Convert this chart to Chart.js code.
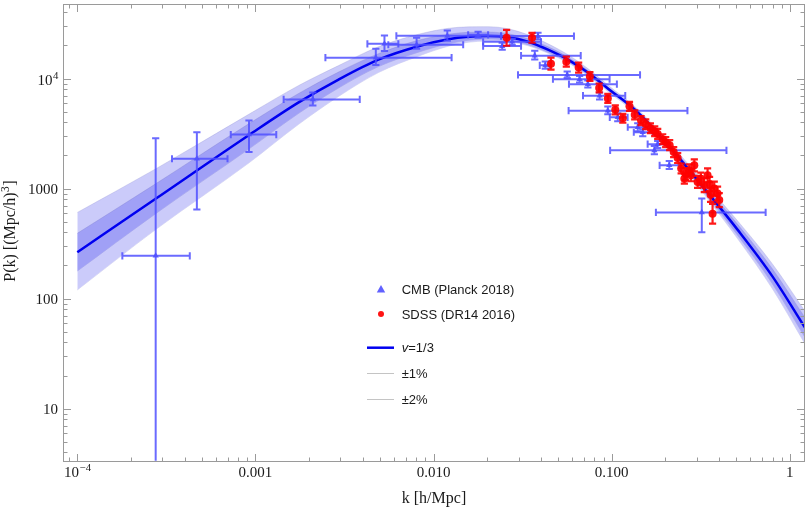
<!DOCTYPE html>
<html><head><meta charset="utf-8">
<script src="https://cdn.jsdelivr.net/npm/chart.js@4/dist/chart.umd.min.js"></script>
<style>html,body{margin:0;padding:0;background:#fff}#wrap{width:809px;height:509px}</style>
</head><body><div id="wrap"><canvas id="c" width="809" height="509"></canvas></div>
<script>
// ---- model curve (nu = 1/3) and ±1% / ±2% bands ----
const modelK = [1.0e-4, 2.765e-4, 9.17e-4, 1.748e-3, 2.927e-3, 4.903e-3, 8.212e-3, 0.01208, 0.01564, 0.02024, 0.02620, 0.03391, 0.04387, 0.05678, 0.07347, 0.09510, 0.1400, 0.2143, 0.3321, 0.5082, 0.7980, 1.221];
const modelP = [264.2, 812.3, 3056, 6069, 9795, 14850, 19660, 22750, 23960, 24310, 23710, 21590, 18280, 14850, 11330, 8123, 4932, 2332, 993.8, 423.6, 159.4, 54.0];
const band1Hi = [392.2, 1109.8, 3881, 7319, 11450, 16825, 22275, 25243, 26310, 26418, 25500, 22980, 19457, 15643, 11812, 8381, 5088, 2431, 1068.8, 474.9, 186.3, 66.5];
const band1Lo = [178.0, 594.5, 2284, 4829, 8208, 12838, 17352, 20718, 22278, 22839, 22275, 20284, 17353, 14245, 10868, 7873, 4780, 2237, 924.0, 377.8, 136.4, 43.9];
const band2Hi = [606.9, 1516.1, 4731, 8644, 13107, 19456, 25230, 28594, 29497, 29622, 28296, 24973, 20711, 16478, 12312, 8736, 5250, 2534, 1126.0, 510.8, 206.7, 76.1];
const band2Lo = [119.9, 426.3, 1707, 3841, 6877, 11334, 15970, 19668, 21370, 21909, 21592, 19868, 16997, 13951, 10644, 7632, 4634, 2146, 877.1, 351.3, 122.9, 38.3];

// ---- CMB (Planck 2018) ----
const cmbK   = [2.754e-4, 4.69e-4, 9.20e-4, 2.10e-3, 4.74e-3, 5.30e-3, 8.03e-3, 0.01194, 0.01778, 0.02427, 0.03855, 0.03698, 0.04236, 0.05623, 0.06603, 0.07345, 0.08551, 0.09509, 0.1081, 0.1400, 0.1493, 0.1735, 0.1811, 0.2104, 0.3203, 0.02761];
const cmbP   = [245, 1866, 3097, 6457, 15490, 20700, 20280, 24430, 24950, 19720, 24320, 16140, 13180, 10790, 9862, 8892, 6982, 5105, 4446, 3608, 3252, 2225, 2535, 1627, 606.7, 21580];
const cmbKLo = [1.79e-4, 3.40e-4, 7.27e-4, 1.44e-3, 2.47e-3, 4.25e-3, 5.57e-3, 6.18e-3, 0.01563, 0.01897, 0.02393, 0.03097, 0.03945, 0.02977, 0.04677, 0.05754, 0.06897, 0.05727, 0.0975, 0.1230, 0.1330, 0.09795, 0.1591, 0.1857, 0.1770, 0.01897];
const cmbKHi = [4.28e-4, 6.97e-4, 1.309e-3, 3.85e-3, 0.01262, 6.34e-3, 0.01466, 0.02393, 0.02023, 0.03097, 0.06138, 0.06699, 0.04487, 0.1442, 0.09727, 0.1069, 0.1191, 0.2661, 0.1228, 0.1632, 0.1698, 0.4406, 0.2060, 0.2403, 0.7311, 0.04009];
const cmbPLo = [0.5, 645, 2148, 5702, 13250, 17780, 18660, 22030, 23460, 18280, 22750, 14860, 12300, 10110, 9204, 8299, 6457, 4732, 4092, 3319, 2992, 2056, 2335, 1507, 400.9, 20280];
const cmbPHi = [2871, 3252, 4150, 7476, 18660, 24600, 23460, 27290, 26590, 21130, 26060, 17910, 14260, 11560, 10540, 9594, 7476, 5585, 4831, 3921, 3462, 2432, 2700, 1779, 812.8, 22960];

// ---- SDSS (DR14 2016) ----
const sdssK   = [0.0257, 0.0357, 0.0456, 0.0556, 0.0652, 0.0754, 0.0850, 0.0951, 0.1047, 0.1154, 0.1258, 0.1346, 0.1461, 0.1552, 0.1649, 0.1743, 0.1812, 0.1932, 0.2009, 0.2115, 0.2227, 0.2345, 0.2453, 0.2557, 0.2600, 0.2727, 0.2784, 0.2908, 0.3035, 0.3167, 0.3308, 0.3452, 0.3542, 0.3588, 0.3763, 0.3927, 0.4014, 0.3682];
const sdssP   = [23460, 23460, 13660, 14240, 12570, 10430, 8209, 6597, 5194, 4352, 5587, 4680, 4148, 3842, 3534, 3320, 3140, 2812, 2642, 2482, 2146, 1894, 1522, 1231, 1358, 1466, 1321, 1627, 1150, 1231, 1073, 1321, 1103, 877, 1000, 901, 786, 591];
const sdssPLo = [19860, 21150, 12060, 12840, 11330, 9500, 7476, 6008, 4730, 3964, 5088, 4262, 3778, 3464, 3187, 2994, 2831, 2536, 2382, 2238, 1935, 1708, 1372, 1110, 1199, 1294, 1166, 1436, 1015, 1086, 927, 1142, 953, 758, 864, 779, 679, 480];
const sdssPHi = [27700, 26020, 15480, 15790, 13940, 11450, 9013, 7243, 5703, 4778, 6134, 5139, 4554, 4261, 3919, 3682, 3482, 3119, 2930, 2753, 2380, 2100, 1688, 1365, 1539, 1661, 1497, 1843, 1303, 1395, 1241, 1528, 1276, 1015, 1157, 1043, 909, 727];

// ---- axes ----
const xMin = 8.28e-5, xMax = 1.216, yMin = 3.365, yMax = 47590;
const xTickVals = [1e-4, 1e-3, 1e-2, 1e-1, 1];
const xTickLabels = [['10', '\u22124'], ['0.001', ''], ['0.010', ''], ['0.100', ''], ['1', '']];
const yTickVals = [10, 100, 1000, 1e4];
const yTickLabels = [['10', ''], ['100', ''], ['1000', ''], ['10', '4']];
const xTitle = 'k [h/Mpc]';
const yTitleParts = ['P(k) [(Mpc/h)', '3', ']'];
const legendItems = ['CMB (Planck 2018)', 'SDSS (DR14 2016)', '=1/3', '\u00b11%', '\u00b12%'];

const LIGHT = 'rgb(203,203,250)', DARK = 'rgb(160,160,246)';
const BLUEPT = 'rgba(80,80,255,0.9)', REDPT = 'rgba(255,0,0,0.92)';

const pts = (xs, ys) => xs.map((x, i) => ({x, y: ys[i]}));

const serif = '"Liberation Serif", "Times New Roman", serif';
const sans = '"Liberation Sans", Arial, sans-serif';

function supText(ctx, base, sup, x, y, align, size) {
  ctx.font = size + 'px ' + serif;
  const wb = ctx.measureText(base).width;
  ctx.font = (size * 0.72) + 'px ' + serif;
  const ws = sup ? ctx.measureText(sup).width : 0;
  const w = wb + ws;
  const x0 = align === 'center' ? x - w / 2 : (align === 'right' ? x - w : x);
  ctx.textAlign = 'left';
  ctx.font = size + 'px ' + serif;
  ctx.fillText(base, x0, y);
  if (sup) { ctx.font = (size * 0.72) + 'px ' + serif; ctx.fillText(sup, x0 + wb + 0.5, y - size * 0.42); }
}

const errPlugin = {
  id: 'errbars',
  beforeDatasetDraw(chart, args) {
    const ds = chart.data.datasets[args.index];
    if (!ds.err) return;
    const {ctx, chartArea: a} = chart;
    const xs = chart.scales.x, ys = chart.scales.y;
    const e = ds.err;
    ctx.save();
    ctx.beginPath(); ctx.rect(a.left, a.top, a.right - a.left, a.bottom - a.top); ctx.clip();
    ctx.strokeStyle = ds.errColor; ctx.lineWidth = ds.errWidth || 2; ctx.lineCap = 'butt';
    const cap = 3.6;
    for (let i = 0; i < e.x.length; i++) {
      const px = xs.getPixelForValue(e.x[i]), py = ys.getPixelForValue(e.y[i]);
      ctx.beginPath();
      if (e.yLo) {
        const y1 = ys.getPixelForValue(e.yLo[i]), y2 = ys.getPixelForValue(e.yHi[i]);
        ctx.moveTo(px, y1); ctx.lineTo(px, y2);
        ctx.moveTo(px - cap, y1); ctx.lineTo(px + cap, y1);
        ctx.moveTo(px - cap, y2); ctx.lineTo(px + cap, y2);
      }
      if (e.xLo) {
        const x1 = xs.getPixelForValue(e.xLo[i]), x2 = xs.getPixelForValue(e.xHi[i]);
        ctx.moveTo(x1, py); ctx.lineTo(x2, py);
        ctx.moveTo(x1, py - cap); ctx.lineTo(x1, py + cap);
        ctx.moveTo(x2, py - cap); ctx.lineTo(x2, py + cap);
      }
      ctx.stroke();
    }
    ctx.restore();
  }
};

const framePlugin = {
  id: 'frame',
  afterDraw(chart) {
    const {ctx, chartArea: a} = chart;
    const xs = chart.scales.x, ys = chart.scales.y;
    ctx.save();
    ctx.strokeStyle = '#9a9a9a'; ctx.lineWidth = 1;
    const L = Math.round(a.left) + 0.5, R = Math.round(a.right) - 0.5, T = Math.round(a.top) + 0.5, B = Math.round(a.bottom) + 0.5;
    ctx.strokeRect(L, T, R - L, B - T);
    ctx.beginPath();
    for (let e = -5; e <= 0; e++) {
      for (let m = 1; m <= 9; m++) {
        const v = m * Math.pow(10, e);
        if (v < xMin || v > xMax) continue;
        const px = Math.round(xs.getPixelForValue(v)) + 0.5;
        const len = m === 1 ? 7.5 : 4;
        ctx.moveTo(px, B); ctx.lineTo(px, B - len);
        ctx.moveTo(px, T); ctx.lineTo(px, T + len);
      }
    }
    for (let e = 0; e <= 4; e++) {
      for (let m = 1; m <= 9; m++) {
        const v = m * Math.pow(10, e);
        if (v < yMin || v > yMax) continue;
        const py = Math.round(ys.getPixelForValue(v)) + 0.5;
        const len = m === 1 ? 7.5 : 4;
        ctx.moveTo(L, py); ctx.lineTo(L + len, py);
        ctx.moveTo(R, py); ctx.lineTo(R - len, py);
      }
    }
    ctx.stroke();

    // tick labels
    ctx.fillStyle = '#1a1a1a';
    ctx.textBaseline = 'alphabetic';
    xTickVals.forEach((v, i) => {
      const px = xs.getPixelForValue(v);
      supText(ctx, xTickLabels[i][0], xTickLabels[i][1], px, 477, 'center', 15);
    });
    yTickVals.forEach((v, i) => {
      const py = ys.getPixelForValue(v);
      const off = yTickLabels[i][1] ? 6.5 : 5.2;
      supText(ctx, yTickLabels[i][0], yTickLabels[i][1], 58, py + off, 'right', 15);
    });

    // axis titles
    ctx.font = '16px ' + serif; ctx.textAlign = 'center';
    ctx.fillText(xTitle, 434, 503);
    ctx.save();
    ctx.translate(15, 231); ctx.rotate(-Math.PI / 2);
    ctx.font = '16px ' + serif;
    const w0 = ctx.measureText(yTitleParts[0]).width;
    ctx.font = '11.5px ' + serif;
    const w1 = ctx.measureText(yTitleParts[1]).width;
    ctx.font = '16px ' + serif;
    const w2 = ctx.measureText(yTitleParts[2]).width;
    let sx = -(w0 + w1 + w2 + 1) / 2;
    ctx.textAlign = 'left';
    ctx.fillText(yTitleParts[0], sx, 0);
    ctx.font = '11.5px ' + serif; ctx.fillText(yTitleParts[1], sx + w0 + 0.5, -6.5);
    ctx.font = '16px ' + serif; ctx.fillText(yTitleParts[2], sx + w0 + w1 + 1, 0);
    ctx.restore();

    // legend
    const lx = 401.7;
    ctx.fillStyle = BLUEPT;
    ctx.beginPath(); ctx.moveTo(381, 285); ctx.lineTo(385.2, 292.5); ctx.lineTo(376.8, 292.5); ctx.closePath(); ctx.fill();
    ctx.fillStyle = REDPT;
    ctx.beginPath(); ctx.arc(381, 314, 3, 0, Math.PI * 2); ctx.fill();
    ctx.strokeStyle = '#0000f0'; ctx.lineWidth = 2.5;
    ctx.beginPath(); ctx.moveTo(367, 347.7); ctx.lineTo(394, 347.7); ctx.stroke();
    ctx.strokeStyle = '#c4c4c4'; ctx.lineWidth = 1;
    ctx.beginPath(); ctx.moveTo(367, 373.5); ctx.lineTo(394, 373.5); ctx.moveTo(367, 399.5); ctx.lineTo(394, 399.5); ctx.stroke();
    ctx.fillStyle = '#1a1a1a'; ctx.textAlign = 'left';
    ctx.font = '13px ' + sans;
    ctx.fillText(legendItems[0], lx, 293.7);
    ctx.fillText(legendItems[1], lx, 318.7);
    ctx.font = 'italic 13px ' + sans;
    ctx.fillText('v', lx, 352.4);
    const vw = ctx.measureText('v').width;
    ctx.font = '13px ' + sans;
    ctx.fillText(legendItems[2], lx + vw, 352.4);
    ctx.fillText(legendItems[3], lx, 378);
    ctx.fillText(legendItems[4], lx, 404);
    ctx.restore();
  }
};

const lineDs = (data, extra) => Object.assign({
  type: 'line', data, pointRadius: 0, borderWidth: 0, fill: false,
  cubicInterpolationMode: 'monotone', tension: 0.4
}, extra);

new Chart(document.getElementById('c'), {
  data: {
    datasets: [
      lineDs(pts(modelK, band2Hi), {order: 6, fill: {target: 1}, backgroundColor: LIGHT, borderColor: 'rgba(150,150,210,0.5)', borderWidth: 0.6}),
      lineDs(pts(modelK, band2Lo), {order: 6, borderColor: 'rgba(150,150,210,0.5)', borderWidth: 0.6}),
      lineDs(pts(modelK, band1Hi), {order: 5, fill: {target: 3}, backgroundColor: DARK, borderColor: 'rgba(120,120,200,0.5)', borderWidth: 0.6}),
      lineDs(pts(modelK, band1Lo), {order: 5, borderColor: 'rgba(120,120,200,0.5)', borderWidth: 0.6}),
      lineDs(pts(modelK, modelP), {order: 3, borderColor: '#0000f0', borderWidth: 2.5}),
      {type: 'scatter', data: pts(cmbK, cmbP), order: 2, pointStyle: 'triangle', pointRadius: 3.6, borderWidth: 0,
       backgroundColor: BLUEPT, err: {x: cmbK, y: cmbP, xLo: cmbKLo, xHi: cmbKHi, yLo: cmbPLo, yHi: cmbPHi}, errColor: 'rgba(80,80,255,0.85)', errWidth: 2},
      {type: 'scatter', data: pts(sdssK, sdssP), order: 1, pointStyle: 'circle', pointRadius: 4, borderWidth: 0,
       backgroundColor: REDPT, err: {x: sdssK, y: sdssP, yLo: sdssPLo, yHi: sdssPHi}, errColor: 'rgba(255,0,0,0.9)', errWidth: 2.2}
    ]
  },
  options: {
    responsive: false, animation: false, devicePixelRatio: 1,
    layout: {padding: {left: 62.7, right: 1.3, top: 1, bottom: 48.3}},
    plugins: {legend: {display: false}, tooltip: {enabled: false}},
    scales: {
      x: {type: 'logarithmic', min: xMin, max: xMax, display: false, bounds: 'data'},
      y: {type: 'logarithmic', min: yMin, max: yMax, display: false, bounds: 'data'}
    }
  },
  plugins: [errPlugin, framePlugin]
});
</script></body></html>
